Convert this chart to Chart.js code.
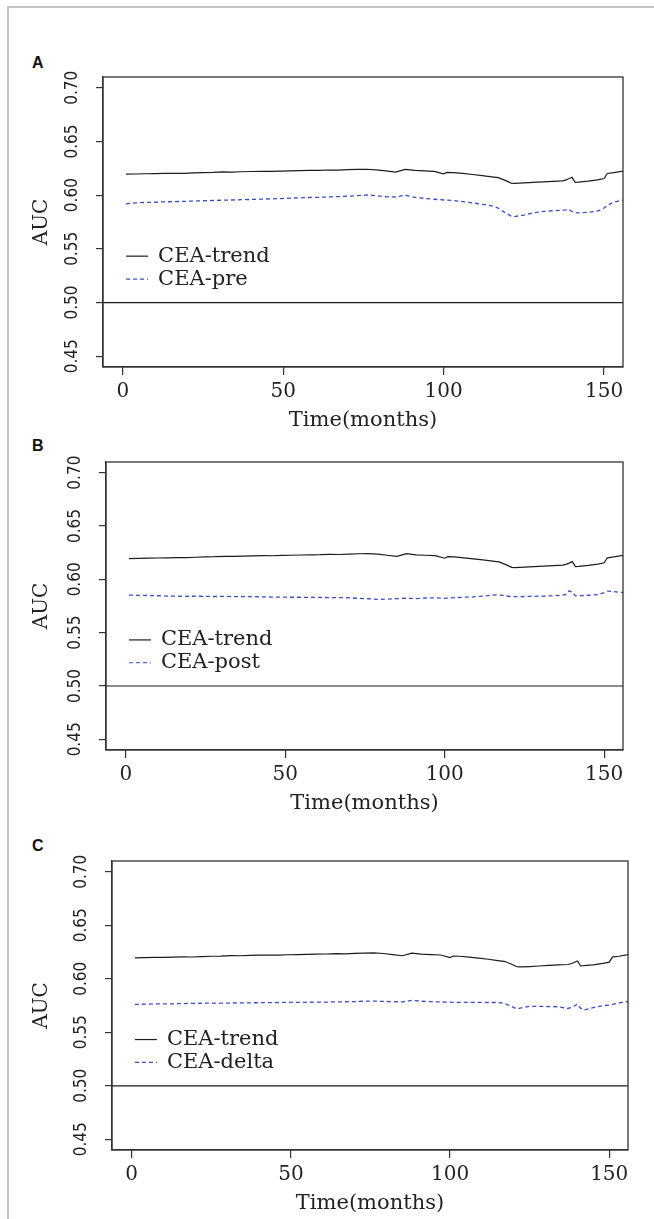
<!DOCTYPE html>
<html>
<head>
<meta charset="utf-8">
<script src="https://cdn.jsdelivr.net/npm/chart.js@4.4.0/dist/chart.umd.min.js"></script>
<style>
  body { margin: 0; background: #fff; width: 654px; height: 1219px; position: relative; overflow: hidden; }
  .frame { position: absolute; left: 7px; top: 6px; width: 700px; height: 1300px; border-left: 2px solid #c4c4c4; border-top: 2px solid #c4c4c4; }
  .tag { position: absolute; left: 32px; font: bold 16px "Liberation Sans", Arial, sans-serif; color: #111; }
  canvas { position: absolute; left: 0; }
</style>
</head>
<body>
<div class="frame"></div>
<div class="tag" style="top:54px">A</div>
<div class="tag" style="top:437px">B</div>
<div class="tag" style="top:837px">C</div>
<canvas id="chartA" width="654" height="440" style="top:0px"></canvas>
<canvas id="chartB" width="654" height="420" style="top:400px"></canvas>
<canvas id="chartC" width="654" height="419" style="top:800px"></canvas>
<script>
// months at which the AUC curves were read
var months = [1,4,7,10,13,16,19,22,25,28,31,34,37,40,43,46,49,52,55,58,61,64,67,70,73,76,79,82,85,88,91,94,97,100,
              101,103,106,109,112,115,117,119,121,122,125,128,131,134,137,138,139,140,141,142,145,148,150,151,153,156];

var ceaTrend = [0.6195,0.6197,0.6199,0.6200,0.6202,0.6204,0.6203,0.6207,0.6210,0.6212,0.6216,0.6215,0.6218,0.6220,0.6222,0.6221,0.6224,0.6226,0.6228,0.6230,
                0.6231,0.6234,0.6233,0.6237,0.6240,0.6241,0.6236,0.6226,0.6215,0.6240,0.6230,0.6226,0.6222,0.6198,
                0.6212,0.6210,0.6202,0.6192,0.6182,0.6170,0.6163,0.6140,0.6112,0.6110,0.6114,0.6119,0.6124,0.6129,0.6133,0.6140,
                0.6152,0.6166,0.6120,0.6122,0.6130,0.6143,0.6155,0.6202,0.6210,0.6225];

var ceaPre = [0.5920,0.5928,0.5932,0.5934,0.5938,0.5940,0.5942,0.5945,0.5948,0.5950,0.5953,0.5955,0.5958,0.5960,0.5963,0.5965,0.5968,0.5972,0.5975,0.5978,
              0.5980,0.5983,0.5986,0.5990,0.5996,0.6002,0.5995,0.5985,0.5983,0.6000,0.5980,0.5970,0.5962,0.5955,
              0.5953,0.5950,0.5940,0.5928,0.5915,0.5900,0.5880,0.5840,0.5805,0.5800,0.5815,0.5835,0.5848,0.5855,0.5860,0.5862,
              0.5868,0.5848,0.5836,0.5835,0.5840,0.5852,0.5880,0.5905,0.5935,0.5955];

var ceaPost = [0.5852,0.5850,0.5848,0.5846,0.5843,0.5842,0.5841,0.5842,0.5840,0.5839,0.5840,0.5838,0.5837,0.5838,0.5836,0.5834,0.5833,0.5832,0.5832,0.5831,
               0.5830,0.5829,0.5828,0.5827,0.5822,0.5818,0.5812,0.5815,0.5819,0.5823,0.5820,0.5825,0.5826,0.5822,
               0.5823,0.5828,0.5832,0.5836,0.5842,0.5853,0.5855,0.5845,0.5838,0.5838,0.5839,0.5841,0.5843,0.5846,0.5852,0.5858,
               0.5893,0.5880,0.5845,0.5846,0.5851,0.5856,0.5875,0.5890,0.5885,0.5876];

var ceaDelta = [0.5760,0.5762,0.5765,0.5766,0.5766,0.5768,0.5770,0.5771,0.5772,0.5772,0.5773,0.5774,0.5775,0.5776,0.5777,0.5778,0.5779,0.5779,0.5780,0.5781,
                0.5782,0.5784,0.5785,0.5787,0.5790,0.5791,0.5788,0.5786,0.5784,0.5797,0.5790,0.5786,0.5783,0.5781,
                0.5780,0.5780,0.5779,0.5779,0.5778,0.5778,0.5770,0.5745,0.5718,0.5725,0.5743,0.5742,0.5740,0.5738,0.5722,0.5730,
                0.5745,0.5763,0.5725,0.5708,0.5730,0.5748,0.5754,0.5760,0.5775,0.5788];

var xTicks = [0, 50, 100, 150];
var yTicks = [0.45, 0.50, 0.55, 0.60, 0.65, 0.70];
var refLevel = 0.5;

function pts(ys) {
    return months.map(function(m, i) { return {x: m, y: ys[i]}; });
}

// box around the plot region, like R's bty="o"
var boxPlugin = {
    id: 'box',
    afterDraw: function(chart) {
        var a = chart.chartArea, ctx = chart.ctx;
        ctx.save();
        ctx.strokeStyle = '#333';
        ctx.lineWidth = 1.3;
        ctx.strokeRect(a.left, a.top, a.right - a.left, a.bottom - a.top);
        ctx.restore();
    }
};

// legend placed at data coordinates, R style
var rLegend = {
    id: 'rlegend',
    afterDraw: function(chart) {
        var ctx = chart.ctx, sx = chart.scales.x, sy = chart.scales.y;
        var rows = [0.5432, 0.5218];
        chart.data.datasets.slice(0, 2).forEach(function(ds, i) {
            var px = sx.getPixelForValue(1);
            var py = sy.getPixelForValue(rows[i]);
            ctx.save();
            ctx.strokeStyle = ds.borderColor;
            ctx.lineWidth = 1.2;
            ctx.setLineDash(ds.borderDash || []);
            ctx.beginPath();
            ctx.moveTo(px, py);
            ctx.lineTo(px + 22, py);
            ctx.stroke();
            ctx.setLineDash([]);
            ctx.fillStyle = '#222';
            ctx.font = '21px "DejaVu Serif"';
            ctx.textBaseline = 'middle';
            ctx.fillText(ds.label, px + 32, py);
            ctx.restore();
        });
    }
};

function makePanel(id, box, secondName, secondValues) {
    var canvas = document.getElementById(id);
    var H = canvas.height;
    var labelOff = 25, titleOff = 54;
    return new Chart(canvas, {
        type: 'line',
        data: {
            datasets: [
                { label: 'CEA-trend', data: pts(ceaTrend), borderColor: '#1c1c1c', borderWidth: 1.2, pointRadius: 0, tension: 0 },
                { label: secondName, data: pts(secondValues), borderColor: '#3a4cc8', borderWidth: 1.3, borderDash: [4, 3], pointRadius: 0, tension: 0 },
                { label: 'ref', data: [{x: -20, y: refLevel}, {x: 200, y: refLevel}], borderColor: '#1c1c1c', borderWidth: 1.2, pointRadius: 0 }
            ]
        },
        options: {
            responsive: false,
            animation: false,
            layout: { padding: { left: 0, top: box.top, right: 654 - box.right, bottom: 0 } },
            plugins: { legend: { display: false }, tooltip: { enabled: false } },
            scales: {
                x: {
                    type: 'linear', min: -6.2, max: 155.9,
                    afterBuildTicks: function(s) { s.ticks = xTicks.map(function(v) { return {value: v}; }); },
                    afterFit: function(s) { s.height = H - box.bottom; },
                    ticks: { maxRotation: 0, padding: labelOff - 8 - 12, color: '#222',
                             font: { family: 'DejaVu Serif', size: 20 } },
                    grid: { drawOnChartArea: false, drawTicks: true, tickLength: 8, color: '#333', lineWidth: 1.2 },
                    border: { display: true, color: '#333', width: 1.3 },
                    title: { display: true, text: 'Time(months)', color: '#222',
                             font: { family: 'DejaVu Serif', size: 21 },
                             padding: { top: 0, bottom: H - box.bottom - titleOff - 12.6 } }
                },
                y: {
                    type: 'linear', min: 0.44, max: 0.71,
                    afterBuildTicks: function(s) { s.ticks = yTicks.map(function(v) { return {value: v}; }); },
                    afterFit: function(s) { s.width = box.left; },
                    ticks: { minRotation: 90, maxRotation: 90, crossAlign: 'center', padding: 6, color: '#222',
                             font: { family: '"Liberation Sans Narrow", "DejaVu Sans Condensed", sans-serif', size: 17 },
                             callback: function(v) { return v.toFixed(2); } },
                    grid: { drawOnChartArea: false, drawTicks: true, tickLength: 7, color: '#333', lineWidth: 1.2 },
                    border: { display: true, color: '#333', width: 1.3 },
                    title: { display: true, text: 'AUC', color: '#222',
                             font: { family: 'DejaVu Serif', size: 20 },
                             padding: { top: 30, bottom: 0 } }
                }
            }
        },
        plugins: [boxPlugin, rLegend]
    });
}

makePanel('chartA', {left: 103, right: 623, top: 77, bottom: 367}, 'CEA-pre', ceaPre);
makePanel('chartB', {left: 106, right: 623, top: 62, bottom: 350}, 'CEA-post', ceaPost);
makePanel('chartC', {left: 112, right: 628, top: 61, bottom: 350}, 'CEA-delta', ceaDelta);
</script>
</body>
</html>
